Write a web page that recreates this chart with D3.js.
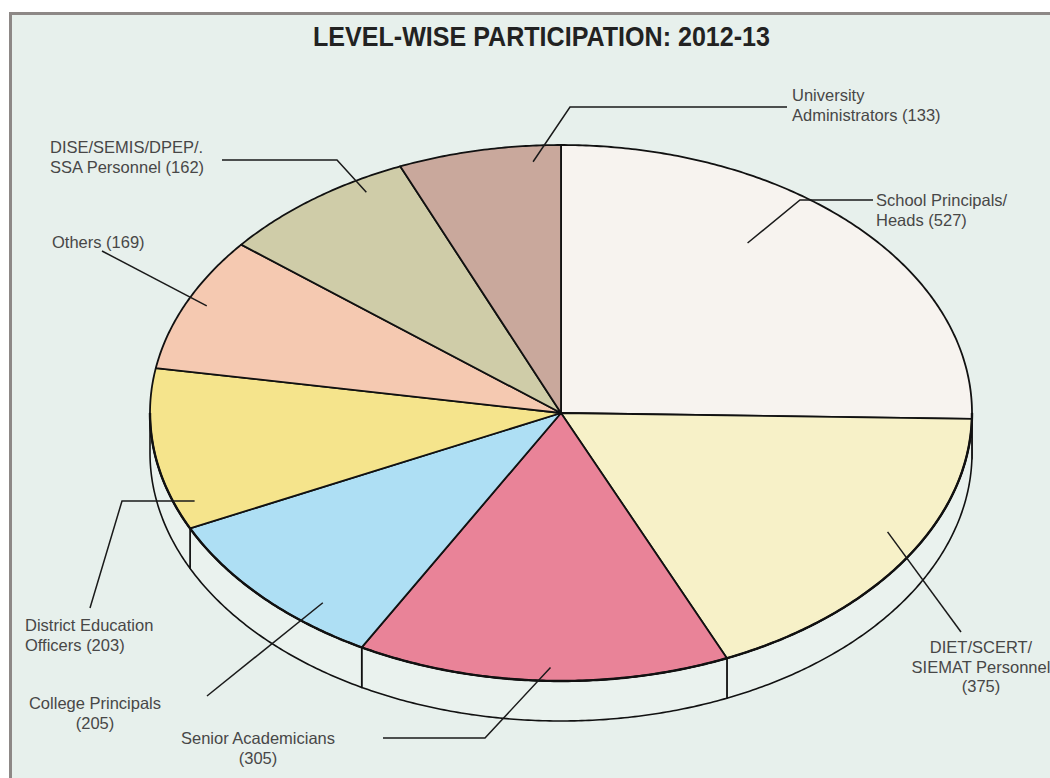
<!DOCTYPE html>
<html>
<head>
<meta charset="utf-8">
<script src="https://cdn.jsdelivr.net/npm/d3@7"></script>
<style>
  html, body { margin: 0; padding: 0; background: #ffffff; }
  svg { display: block; }
</style>
</head>
<body>
<svg id="chart" width="1050" height="778"></svg>
<script>
// ---------- data ----------
const title = "LEVEL-WISE PARTICIPATION: 2012-13";
const categories = [
  "School Principals/Heads",
  "DIET/SCERT/SIEMAT Personnel",
  "Senior Academicians",
  "College Principals",
  "District Education Officers",
  "Others",
  "DISE/SEMIS/DPEP/. SSA Personnel",
  "University Administrators"
];
const values = [527, 375, 305, 205, 203, 169, 162, 133];
const labelLines = [
  ["School Principals/", "Heads (527)"],
  ["DIET/SCERT/", "SIEMAT Personnel", "(375)"],
  ["Senior Academicians", "(305)"],
  ["College Principals", "(205)"],
  ["District Education", "Officers (203)"],
  ["Others (169)"],
  ["DISE/SEMIS/DPEP/.", "SSA Personnel (162)"],
  ["University", "Administrators (133)"]
];

// ---------- styles / layout ----------
const sliceColors = ["#f7f3ef", "#f7f1c8", "#e98398", "#aedff4", "#f5e48c", "#f5c9b1", "#cfcca8", "#c9a89c"];
const bg = "#e7f0ec";
const W = 1050, H = 778;
const cx = 561, cy = 413, rx = 411, ry = 268, depth = 40;

// label layout: where the leader starts inside the slice (fraction of slice angle, fraction of radius),
// its elbow/end points, and text anchor position
const labelLayout = [
  { t: 0.39, k: 0.78, pts: [[800, 200], [873, 200]], x: 876, y: 206, anchor: "start" },
  { t: 0.43, k: 0.91, pts: [[961, 632]], x: 981, y: 653, anchor: "middle" },
  { t: 0.48, k: 0.95, pts: [[485, 738], [383, 738]], x: 258, y: 744, anchor: "middle" },
  { t: 0.29, k: 0.915, pts: [[207, 696]], x: 95, y: 709, anchor: "middle" },
  { t: 0.15, k: 0.95, pts: [[122, 501], [90, 608]], x: 25, y: 631, anchor: "start" },
  { t: 0.52, k: 0.95, pts: [[102, 251]], x: 52, y: 248, anchor: "start" },
  { t: 0.755, k: 0.95, pts: [[337, 160], [222, 160]], x: 50, y: 153, anchor: "start" },
  { t: 0.82, k: 0.94, pts: [[570, 107], [787, 107]], x: 792, y: 101, anchor: "start" }
];

const svg = d3.select("#chart");

// frame
svg.append("rect").attr("x", 0).attr("y", 0).attr("width", W).attr("height", H).attr("fill", "#ffffff");
svg.append("rect")
  .attr("x", 10.5).attr("y", 13.5).attr("width", W + 20).attr("height", H + 20)
  .attr("fill", bg).attr("stroke", "#8d8886").attr("stroke-width", 3);

// title
svg.append("text")
  .attr("x", 313).attr("y", 46)
  .attr("textLength", 457).attr("lengthAdjust", "spacingAndGlyphs")
  .style("font-family", "'Liberation Sans', Arial, sans-serif")
  .style("font-weight", "bold").style("font-size", "28px")
  .attr("fill", "#222")
  .text(title);

// pie geometry
const pie = d3.pie().sort(null).value(d => d)
  .startAngle(0).endAngle(2 * Math.PI);
const arcs = pie(values);

function pt(a, k = 1, dy = 0) {
  return [cx + k * rx * Math.sin(a), cy - k * ry * Math.cos(a) + dy];
}
function sample(a0, a1) {
  const n = Math.max(2, Math.ceil(Math.abs(a1 - a0) / (Math.PI / 360)));
  return d3.range(n + 1).map(i => a0 + (a1 - a0) * i / n);
}
const line = d3.line();

// side walls (front half only)
const gSide = svg.append("g");
arcs.forEach(d => {
  const s = Math.max(d.startAngle, Math.PI / 2);
  const e = Math.min(d.endAngle, 3 * Math.PI / 2);
  if (s >= e) return;
  const top = sample(s, e).map(a => pt(a));
  const bot = sample(e, s).map(a => pt(a, 1, depth));
  gSide.append("path")
    .attr("d", line(top.concat(bot)) + "Z")
    .attr("fill", "#eaf2ee")
    .attr("stroke", "#111").attr("stroke-width", 1.6).attr("stroke-linejoin", "round");
});

// top slices
const gTop = svg.append("g");
gTop.selectAll("path.slice").data(arcs).join("path")
  .attr("class", "slice")
  .attr("d", d => line([[cx, cy]].concat(sample(d.startAngle, d.endAngle).map(a => pt(a)))) + "Z")
  .attr("fill", (d, i) => sliceColors[i])
  .attr("stroke", "#111").attr("stroke-width", 1.8).attr("stroke-linejoin", "round");

// heavier front rim
gTop.append("path")
  .attr("d", line(sample(Math.PI / 2, 3 * Math.PI / 2).map(a => pt(a))))
  .attr("fill", "none").attr("stroke", "#111").attr("stroke-width", 2.4);

// leaders and labels
const gLab = svg.append("g");
arcs.forEach((d, i) => {
  const L = labelLayout[i];
  const a = d.startAngle + L.t * (d.endAngle - d.startAngle);
  const start = pt(a, L.k);
  gLab.append("path")
    .attr("d", line([start].concat(L.pts)))
    .attr("fill", "none").attr("stroke", "#1a1a1a").attr("stroke-width", 1.5);
  const txt = gLab.append("text")
    .attr("x", L.x).attr("y", L.y)
    .attr("text-anchor", L.anchor)
    .style("font-family", "'Liberation Sans', Arial, sans-serif")
    .style("font-size", "16.5px")
    .attr("fill", "#474747");
  labelLines[i].forEach((s, j) => {
    txt.append("tspan").attr("x", L.x).attr("dy", j === 0 ? 0 : 19.5).text(s);
  });
});
</script>
</body>
</html>
